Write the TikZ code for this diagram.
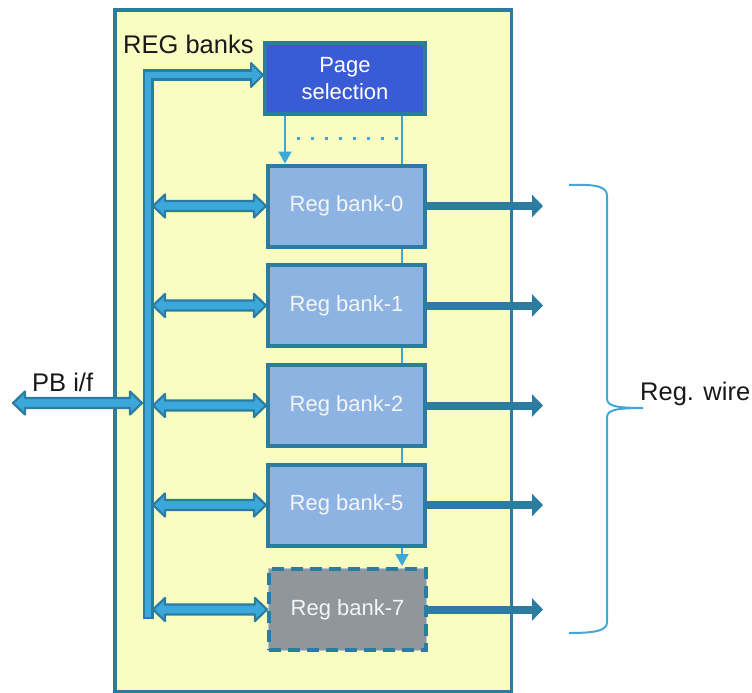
\documentclass[tikz,border=0pt]{standalone}
\usepackage{fontspec}
\setmainfont{Liberation Sans}
\usetikzlibrary{arrows.meta,calc}
\pgfdeclarelayer{bgzero}
\pgfdeclarelayer{bgone}
\pgfsetlayers{bgzero,bgone,main}
\definecolor{darkb}{RGB}{43,124,160}
\definecolor{lightb}{RGB}{59,167,219}
\definecolor{yel}{RGB}{249,253,193}
\definecolor{bankfill}{RGB}{141,179,226}
\definecolor{greyfill}{RGB}{143,150,156}
\definecolor{greyedge}{RGB}{190,195,200}
\definecolor{psfill}{RGB}{58,91,214}
\definecolor{txtw}{RGB}{245,245,245}
\definecolor{bracec}{RGB}{68,166,216}
\tikzset{
  bankbox/.style={draw=darkb, line width=4pt, fill=bankfill, minimum width=157pt, minimum height=81pt,
     inner sep=0pt, text=txtw, font=\fontsize{22}{27}\selectfont},
  greybox/.style={bankbox, fill=greyfill, dash pattern=on 12pt off 7pt,
     preaction={draw=greyedge, line width=2pt, solid}},
  psbox/.style={bankbox, fill=psfill, minimum width=160pt, minimum height=71pt, align=center, text=white},
  lbl/.style={inner sep=0pt, anchor=base west, text=black!90, font=\fontsize{25.5}{30}\selectfont},
  selline/.style={draw=lightb, line width=1.8pt},
  selarrow/.style={selline, -{Triangle[length=12pt,width=13pt]}},
  outarrow/.style={draw=darkb, line width=8pt, -{Triangle[length=11pt,width=22pt]}},
  dblarr/.style={draw=darkb, fill=lightb, line width=2.2pt, line join=round},
}
\newcommand\myDblArrow[2]{%
  \path[dblarr] let \p1=(#1), \p2=(#2) in
    (\x1,\y1) -- (\x1+12pt,\y1+11.5pt) -- (\x1+12pt,\y1+5pt) -- (\x2-12pt,\y1+5pt)
    -- (\x2-12pt,\y1+11.5pt) -- (\x2,\y1) -- (\x2-12pt,\y1-11.5pt) -- (\x2-12pt,\y1-5pt)
    -- (\x1+12pt,\y1-5pt) -- (\x1+12pt,\y1-11.5pt) -- cycle;}
\begin{document}
\begin{tikzpicture}[x=1pt,y=-1pt]
\useasboundingbox (0,0) rectangle (752,693);
% outer box
\begin{pgfonlayer}{bgzero}
\draw[darkb, fill=yel, line width=3.5pt] (115,10) rectangle (511.5,691.5);
\end{pgfonlayer}
% nodes
\node[psbox] (ps) at (345,78.5) {Page\\selection};
\node[bankbox] (b0) at (346.5,206) {Reg bank-0};
\node[bankbox] (b1) at (346.5,305.5) {Reg bank-1};
\node[bankbox] (b2) at (346.5,405.5) {Reg bank-2};
\node[bankbox] (b5) at (346.5,505) {Reg bank-5};
\node[greybox] (b7) at (347.5,609.5) {Reg bank-7};
% selection lines (behind banks)
\coordinate (s1) at (285,115);
\coordinate (s2) at (402,115);
\coordinate (d1) at (297,138);
\coordinate (d2) at (399,138);
\begin{pgfonlayer}{bgone}
\draw[selarrow] (s1) -- (s1 |- b0.north);
\draw[selarrow] (s2) -- ($(s2 |- b7.north)+(0,-1)$);
\draw[lightb, line width=3pt, dash pattern=on 3pt off 11pt] (d1) -- (d2);
\end{pgfonlayer}
% bus
\coordinate (busBot) at (148,619);
\coordinate (busTop) at (148,75);
\coordinate (busEnd) at (252,75);
\coordinate (busTip) at (263,75);
\coordinate (busR) at (153,0);
\coordinate (busL) at (142,0);
\draw[darkb, line width=11pt, line join=miter] (busBot) -- (busTop) -- (busEnd);
\path[draw=darkb, fill=lightb, line width=2pt, line join=round] (251,63) -- (busTip) -- (251,87) -- cycle;
\draw[lightb, line width=5.5pt, line join=miter] ($(busBot)+(0,-2.5)$) -- (busTop) -- (busEnd);
% bus to banks
\myDblArrow{busR |- b0.west}{b0.west}
\myDblArrow{busR |- b1.west}{b1.west}
\myDblArrow{busR |- b2.west}{b2.west}
\myDblArrow{busR |- b5.west}{b5.west}
\myDblArrow{busR |- b7.west}{b7.west}
% PB i/f
\coordinate (pbL) at (13,403);
\myDblArrow{pbL}{busL |- pbL}
\node[lbl] (pb) at (32,391) {PB i/f};
\node[lbl] (regb) at (123,53) {REG banks};
% outputs
\coordinate (oX) at (543,0);
\foreach \b in {b0,b1,b2,b5,b7}{
  \draw[outarrow] (\b.east) -- (oX |- \b.east);
}
% brace
\draw[bracec, line width=2pt]
  (569,185) .. controls (598,184) and (607,187) .. (607,196) -- (607,398)
  .. controls (607,405) and (612,408) .. (643,408)
  .. controls (612,408) and (607,411) .. (607,418) -- (607,622)
  .. controls (607,630) and (598,633) .. (569,633);
\node[lbl] (rw) at (640,400) {Reg. wire};
\end{tikzpicture}
\end{document}
